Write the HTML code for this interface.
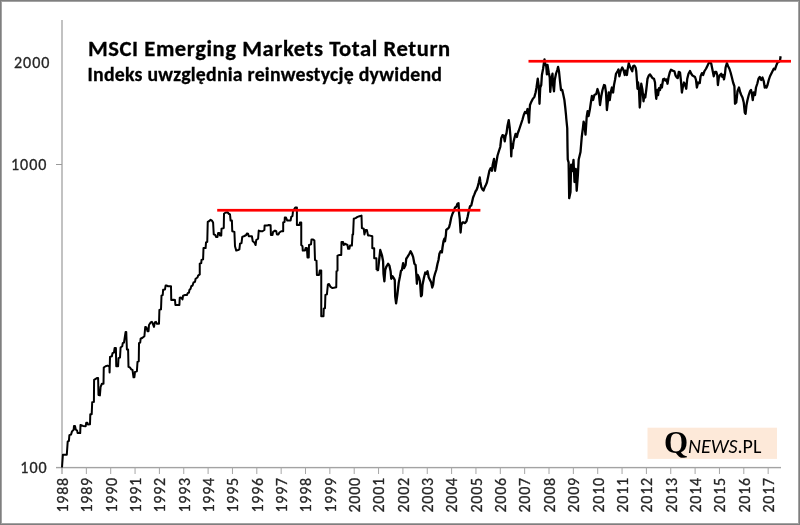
<!DOCTYPE html>
<html><head><meta charset="utf-8">
<style>
html,body{margin:0;padding:0;background:#fff;}
body{width:800px;height:525px;overflow:hidden;}
svg{display:block;}
text{font-family:Carlito, 'Liberation Sans', sans-serif;}
</style></head>
<body>
<svg width="800" height="525" viewBox="0 0 800 525">
<rect x="0" y="0" width="800" height="525" fill="#ffffff"/>
<rect x="0.5" y="0.5" width="799" height="524" fill="none" stroke="#7f7f7f" stroke-width="1"/>
<rect x="1.5" y="1.5" width="797" height="522" fill="none" stroke="#a3a3a3" stroke-width="1"/>
<rect x="61" y="20" width="2" height="454" fill="#c2c2c2"/>
<rect x="56" y="466.9" width="725" height="1.4" fill="#a3a3a3"/>
<rect x="56" y="164" width="6" height="1" fill="#9a9a9a"/>
<rect x="85.85" y="467" width="1" height="7" fill="#a6a6a6"/><rect x="110.20" y="467" width="1" height="7" fill="#a6a6a6"/><rect x="134.55" y="467" width="1" height="7" fill="#a6a6a6"/><rect x="158.90" y="467" width="1" height="7" fill="#a6a6a6"/><rect x="183.25" y="467" width="1" height="7" fill="#a6a6a6"/><rect x="207.60" y="467" width="1" height="7" fill="#a6a6a6"/><rect x="231.95" y="467" width="1" height="7" fill="#a6a6a6"/><rect x="256.30" y="467" width="1" height="7" fill="#a6a6a6"/><rect x="280.65" y="467" width="1" height="7" fill="#a6a6a6"/><rect x="305.00" y="467" width="1" height="7" fill="#a6a6a6"/><rect x="329.35" y="467" width="1" height="7" fill="#a6a6a6"/><rect x="353.70" y="467" width="1" height="7" fill="#a6a6a6"/><rect x="378.05" y="467" width="1" height="7" fill="#a6a6a6"/><rect x="402.40" y="467" width="1" height="7" fill="#a6a6a6"/><rect x="426.75" y="467" width="1" height="7" fill="#a6a6a6"/><rect x="451.10" y="467" width="1" height="7" fill="#a6a6a6"/><rect x="475.45" y="467" width="1" height="7" fill="#a6a6a6"/><rect x="499.80" y="467" width="1" height="7" fill="#a6a6a6"/><rect x="524.15" y="467" width="1" height="7" fill="#a6a6a6"/><rect x="548.50" y="467" width="1" height="7" fill="#a6a6a6"/><rect x="572.85" y="467" width="1" height="7" fill="#a6a6a6"/><rect x="597.20" y="467" width="1" height="7" fill="#a6a6a6"/><rect x="621.55" y="467" width="1" height="7" fill="#a6a6a6"/><rect x="645.90" y="467" width="1" height="7" fill="#a6a6a6"/><rect x="670.25" y="467" width="1" height="7" fill="#a6a6a6"/><rect x="694.60" y="467" width="1" height="7" fill="#a6a6a6"/><rect x="718.95" y="467" width="1" height="7" fill="#a6a6a6"/><rect x="743.30" y="467" width="1" height="7" fill="#a6a6a6"/><rect x="767.65" y="467" width="1" height="7" fill="#a6a6a6"/>
<g fill="#262626" font-size="16" letter-spacing="1" stroke="#262626" stroke-width="0.3">
<text x="14" y="67.8" textLength="36.44" lengthAdjust="spacingAndGlyphs">2000</text>
<text x="11" y="169.6" textLength="36.44" lengthAdjust="spacingAndGlyphs">1000</text>
<text x="20.3" y="473.1" textLength="27.33" lengthAdjust="spacingAndGlyphs">100</text>
</g>
<g fill="#262626" font-size="16" letter-spacing="0.75" stroke="#262626" stroke-width="0.3">
<text transform="translate(67.80,512.5) rotate(-90)" textLength="35.44" lengthAdjust="spacingAndGlyphs">1988</text><text transform="translate(92.15,512.5) rotate(-90)" textLength="35.44" lengthAdjust="spacingAndGlyphs">1989</text><text transform="translate(116.50,512.5) rotate(-90)" textLength="35.44" lengthAdjust="spacingAndGlyphs">1990</text><text transform="translate(140.85,512.5) rotate(-90)" textLength="35.44" lengthAdjust="spacingAndGlyphs">1991</text><text transform="translate(165.20,512.5) rotate(-90)" textLength="35.44" lengthAdjust="spacingAndGlyphs">1992</text><text transform="translate(189.55,512.5) rotate(-90)" textLength="35.44" lengthAdjust="spacingAndGlyphs">1993</text><text transform="translate(213.90,512.5) rotate(-90)" textLength="35.44" lengthAdjust="spacingAndGlyphs">1994</text><text transform="translate(238.25,512.5) rotate(-90)" textLength="35.44" lengthAdjust="spacingAndGlyphs">1995</text><text transform="translate(262.60,512.5) rotate(-90)" textLength="35.44" lengthAdjust="spacingAndGlyphs">1996</text><text transform="translate(286.95,512.5) rotate(-90)" textLength="35.44" lengthAdjust="spacingAndGlyphs">1997</text><text transform="translate(311.30,512.5) rotate(-90)" textLength="35.44" lengthAdjust="spacingAndGlyphs">1998</text><text transform="translate(335.65,512.5) rotate(-90)" textLength="35.44" lengthAdjust="spacingAndGlyphs">1999</text><text transform="translate(360.00,512.5) rotate(-90)" textLength="35.44" lengthAdjust="spacingAndGlyphs">2000</text><text transform="translate(384.35,512.5) rotate(-90)" textLength="35.44" lengthAdjust="spacingAndGlyphs">2001</text><text transform="translate(408.70,512.5) rotate(-90)" textLength="35.44" lengthAdjust="spacingAndGlyphs">2002</text><text transform="translate(433.05,512.5) rotate(-90)" textLength="35.44" lengthAdjust="spacingAndGlyphs">2003</text><text transform="translate(457.40,512.5) rotate(-90)" textLength="35.44" lengthAdjust="spacingAndGlyphs">2004</text><text transform="translate(481.75,512.5) rotate(-90)" textLength="35.44" lengthAdjust="spacingAndGlyphs">2005</text><text transform="translate(506.10,512.5) rotate(-90)" textLength="35.44" lengthAdjust="spacingAndGlyphs">2006</text><text transform="translate(530.45,512.5) rotate(-90)" textLength="35.44" lengthAdjust="spacingAndGlyphs">2007</text><text transform="translate(554.80,512.5) rotate(-90)" textLength="35.44" lengthAdjust="spacingAndGlyphs">2008</text><text transform="translate(579.15,512.5) rotate(-90)" textLength="35.44" lengthAdjust="spacingAndGlyphs">2009</text><text transform="translate(603.50,512.5) rotate(-90)" textLength="35.44" lengthAdjust="spacingAndGlyphs">2010</text><text transform="translate(627.85,512.5) rotate(-90)" textLength="35.44" lengthAdjust="spacingAndGlyphs">2011</text><text transform="translate(652.20,512.5) rotate(-90)" textLength="35.44" lengthAdjust="spacingAndGlyphs">2012</text><text transform="translate(676.55,512.5) rotate(-90)" textLength="35.44" lengthAdjust="spacingAndGlyphs">2013</text><text transform="translate(700.90,512.5) rotate(-90)" textLength="35.44" lengthAdjust="spacingAndGlyphs">2014</text><text transform="translate(725.25,512.5) rotate(-90)" textLength="35.44" lengthAdjust="spacingAndGlyphs">2015</text><text transform="translate(749.60,512.5) rotate(-90)" textLength="35.44" lengthAdjust="spacingAndGlyphs">2016</text><text transform="translate(773.95,512.5) rotate(-90)" textLength="35.44" lengthAdjust="spacingAndGlyphs">2017</text>
</g>
<path d="M62.00,467.50 62.90,454.80 66.80,454.80 67.70,441.60 68.90,440.80 69.40,435.10 71.10,434.50 72.00,431.40 73.70,429.70 74.00,425.90 75.00,425.90 75.80,429.70 77.10,430.50 77.60,433.10 80.20,433.10 80.50,424.90 83.10,425.90 85.70,426.20 86.20,422.80 87.40,422.80 87.90,424.50 90.00,424.20 90.30,414.20 91.70,414.20 92.20,402.30 93.90,401.90 94.10,379.80 96.90,378.10 98.10,378.10 98.50,395.00 99.90,395.40 100.60,386.80 101.90,383.75 103.50,383.75 103.75,367.50 105.60,366.25 107.50,365.60 109.40,366.25 109.60,372.50 110.00,356.90 111.90,356.25 112.50,353.10 114.00,352.50 114.60,348.10 115.90,348.10 116.25,366.25 118.10,366.25 118.50,358.10 120.00,357.50 120.60,347.50 122.25,346.25 122.75,343.10 124.00,342.50 125.60,331.90 126.25,331.90 126.90,349.40 128.10,349.40 128.50,366.90 130.00,367.50 131.25,369.40 132.50,370.00 133.50,377.25 134.40,377.25 135.00,371.90 136.90,371.25 137.50,361.90 138.75,361.25 139.00,343.10 140.25,342.50 140.60,338.75 142.50,337.75 144.40,336.25 145.25,326.90 146.50,327.50 147.50,331.25 148.50,331.25 149.00,325.00 150.60,322.50 151.90,321.90 152.50,323.10 154.00,326.90 154.75,322.50 156.00,321.90 156.90,323.75 159.00,323.75 159.40,310.00 161.00,309.40 161.50,295.60 162.75,295.00 163.10,289.75 165.00,289.40 165.60,285.60 166.90,285.60 168.10,286.25 171.00,286.25 171.25,300.00 173.75,299.75 175.00,300.00 175.40,305.00 179.40,305.00 179.75,297.75 181.00,297.50 182.50,299.40 183.10,295.60 185.00,295.00 186.90,295.00 187.75,293.10 189.00,292.50 189.40,290.00 190.60,288.75 191.25,286.25 192.50,285.60 193.50,282.50 195.00,281.90 195.60,278.75 197.50,277.50 198.10,275.60 199.75,274.40 199.75,263.75 201.25,263.10 201.50,260.00 203.10,259.40 203.50,248.10 205.60,248.10 206.00,242.50 207.25,241.90 207.75,221.90 209.00,221.25 210.60,219.75 211.90,220.60 213.10,222.50 213.75,234.40 215.25,235.00 216.00,236.90 217.50,236.90 218.10,233.10 219.40,233.10 220.00,235.60 221.25,235.60 221.50,228.75 223.75,228.10 224.00,213.75 225.60,212.50 227.50,212.25 228.75,213.75 230.00,214.40 230.60,220.60 231.90,220.60 232.25,231.25 234.40,231.90 235.00,246.25 236.25,250.60 238.10,250.00 239.40,249.40 240.00,243.75 241.50,243.10 242.25,236.90 244.40,236.00 246.25,235.00 246.90,233.50 248.10,233.75 248.75,236.25 251.90,236.25 252.75,241.25 254.40,242.50 255.60,245.00 256.25,240.00 258.10,238.75 258.75,230.60 260.60,231.25 262.50,231.25 264.40,230.00 264.60,225.60 266.90,225.60 268.75,225.00 270.60,225.25 270.90,235.00 272.50,235.00 273.10,231.90 275.00,230.60 276.25,231.25 276.90,234.40 278.50,234.40 279.40,232.50 281.25,231.25 283.20,231.25 283.20,222.40 284.60,222.00 284.80,217.60 286.00,217.50 287.25,220.60 290.60,220.60 291.25,216.90 292.50,216.00 293.10,210.00 293.75,210.00 295.25,207.50 296.90,207.50 296.90,225.00 299.40,225.00 300.00,222.50 301.25,222.50 301.25,245.00 302.50,246.25 302.75,250.60 305.00,250.60 305.60,248.10 306.90,248.10 307.50,257.50 308.75,257.50 309.00,245.00 311.00,244.40 311.50,239.40 313.10,239.40 314.40,240.60 315.00,260.00 316.50,260.60 316.90,275.00 319.00,275.00 319.75,270.60 321.25,270.60 321.25,316.25 323.50,316.25 323.75,308.75 325.00,308.10 325.40,295.00 326.90,294.40 327.90,284.40 329.00,284.00 330.60,286.90 332.50,288.10 335.00,287.50 336.25,287.25 336.50,271.25 337.50,270.60 337.50,255.60 339.40,255.00 341.25,255.00 341.50,241.90 343.10,241.90 343.75,245.00 345.00,243.75 347.50,245.00 348.10,248.75 349.40,248.75 350.00,245.60 351.90,245.60 352.50,234.40 353.10,234.40 353.75,218.75 355.60,218.10 357.50,216.90 359.40,216.25 361.50,215.60 361.90,228.10 363.75,228.75 364.40,234.40 365.60,230.00 366.90,230.00 368.10,235.60 370.00,235.60 372.30,236.30 372.30,248.30 374.20,248.30 374.20,258.30 376.40,258.30 376.60,270.00" fill="none" stroke="#000" stroke-width="2" stroke-linejoin="round"/>
<path d="M376.60,270.00 378.00,270.20 379.40,258.00 380.25,250.00 381.90,255.00 383.10,261.25 383.50,273.75 384.40,281.25 385.25,270.00 386.25,266.90 388.10,263.75 389.40,265.60 390.60,271.25 391.25,278.75 392.50,276.25 393.75,278.10 394.75,280.00 395.20,296.50 396.10,303.30 397.30,295.00 398.75,282.50 400.00,276.25 401.00,270.60 401.90,270.00 403.10,263.10 404.00,268.10 405.60,265.00 406.25,258.75 407.50,256.90 409.40,253.75 410.60,251.25 411.90,253.75 413.10,256.90 414.40,263.75 415.60,265.00 416.25,273.75 416.90,283.75 417.75,275.00 419.00,277.50 420.00,281.25 421.00,296.25 421.90,295.00 422.50,285.00 424.00,277.50 425.25,272.50 426.25,273.75 427.50,271.25 428.75,277.50 430.00,280.00 431.25,282.50 432.25,287.50 433.10,285.00 434.00,277.50 435.00,273.75 436.25,270.00 437.50,263.75 438.50,260.00 439.40,253.75 440.60,251.25 441.90,252.50 442.50,247.50 443.50,241.25 444.40,238.75 445.00,241.25 445.90,235.00 446.25,230.00 447.75,228.75 449.00,227.50 450.00,223.75 451.25,217.50 452.50,213.75 453.75,211.25 455.00,207.50 456.25,206.90 457.50,203.75 458.50,203.10 459.00,212.50 459.75,218.75 460.60,232.50 461.25,225.00 462.50,222.50 463.75,222.50 465.00,223.10 466.50,221.25 467.75,216.25 468.75,211.25 470.00,206.25 471.25,205.60 472.25,201.25 473.10,197.50 474.40,194.40 475.60,191.25 476.50,190.00 477.50,187.50 478.75,182.50 479.75,177.50 480.25,181.25 481.25,186.90 482.50,189.40 483.50,190.60 484.40,188.10 485.60,185.60 486.90,182.50 488.10,177.00 489.40,170.75 490.60,168.25 491.90,170.75 492.75,164.50 494.00,158.90 495.00,170.75 496.00,164.50 497.50,155.75 499.00,150.75 500.25,147.00 501.25,138.25 502.50,135.10 503.75,135.75 504.75,141.40 505.60,135.75 506.50,133.25 507.50,125.75 508.75,120.10 509.75,128.25 510.60,138.25 511.25,156.40 511.90,144.50 512.75,148.25 513.50,142.00 514.40,138.25 515.60,133.90 516.90,137.00 517.75,133.25 518.75,130.75 520.00,127.00 521.25,123.25 522.50,119.50 523.75,115.00 525.00,112.00 526.25,113.00 527.50,109.00 528.10,114.00 529.00,122.60 529.50,112.00 530.00,105.00 531.25,101.90 532.50,99.40 534.40,96.90 535.60,92.50 536.50,87.50 537.75,78.75 538.75,86.25 539.50,103.75 540.25,87.50 541.25,85.00 541.90,75.00 543.10,68.75 544.00,62.50 544.50,59.40 545.25,63.75 546.25,66.25 546.90,74.40 547.50,65.00 548.75,72.50 549.75,77.50 550.25,91.90 551.25,80.00 552.50,73.75 553.10,85.00 554.00,91.25 554.75,80.00 556.00,73.75 557.25,70.00 558.10,66.90 559.00,71.25 560.00,81.25 561.00,90.00 562.25,90.00 563.10,93.75 564.40,100.00 565.25,107.50 566.00,115.00 566.25,118.25 567.25,128.25 567.50,147.00 567.75,159.50 568.60,162.30 569.20,198.20 570.50,192.00 571.10,164.75 572.30,171.00 573.50,159.80 574.50,182.00 575.80,169.00 576.70,190.75 577.90,174.65 578.70,159.40 580.50,152.00 581.75,137.00 583.00,127.20 583.60,121.60 584.60,126.00 585.50,134.60 586.10,126.00 586.70,116.70 587.60,111.10 588.60,116.00 589.80,109.85 590.80,103.00 591.90,96.00 593.10,100.00 594.40,95.00 596.25,94.00 597.50,89.00 598.75,93.00 600.00,105.00 601.25,96.25 602.50,90.00 604.00,85.00 605.00,85.60 606.00,92.50 606.90,110.00 607.75,102.50 608.75,92.50 609.75,100.00 611.00,91.25 611.90,87.50 613.10,92.50 614.00,85.00 615.00,80.00 616.00,73.75 617.50,71.25 618.50,69.40 619.40,76.25 620.60,71.25 622.25,67.50 623.50,70.00 624.75,75.00 625.60,70.60 626.90,75.00 627.75,68.75 628.75,63.10 629.75,66.25 631.00,68.75 632.25,71.25 633.10,66.25 634.40,65.60 635.60,67.50 636.25,71.25 636.90,80.00 637.50,88.75 638.10,82.50 639.00,90.00 639.75,107.50 640.25,102.50 641.25,83.75 642.50,90.00 643.50,101.25 644.40,95.00 645.25,97.50 646.25,90.00 647.50,78.75 648.75,75.60 650.00,74.40 651.25,76.25 652.50,78.10 654.00,78.75 655.00,82.50 655.60,92.50 656.25,98.75 657.25,90.00 658.10,95.00 659.00,88.10 660.00,90.00 661.00,85.00 661.90,87.50 663.10,79.40 664.40,78.75 665.25,80.60 666.50,79.40 667.50,83.75 668.50,77.50 669.75,72.50 671.00,69.75 672.50,70.60 674.40,71.25 675.60,75.60 676.90,77.50 677.75,78.10 678.75,71.90 680.00,72.50 681.00,81.25 681.90,92.50 682.75,87.50 684.00,82.50 685.00,84.40 686.25,88.75 687.25,78.75 688.50,73.75 690.00,71.00 691.25,73.75 692.50,75.60 693.75,76.25 695.00,77.00 696.00,80.00 696.90,87.50 698.10,82.50 699.75,83.10 700.60,76.25 701.90,73.10 703.10,75.00 704.40,71.25 706.00,68.75 707.25,66.25 708.75,63.10 710.00,61.90 711.25,63.75 712.50,70.00 713.75,76.25 715.00,71.90 716.25,71.90 717.25,75.00 717.90,85.00 718.75,78.10 720.00,75.00 721.25,73.75 722.25,76.90 723.10,75.00 724.00,79.40 725.00,73.75 725.60,67.50 726.90,63.10 728.10,66.25 729.40,68.75 730.60,72.50 731.90,77.50 733.10,82.50 734.40,86.25 735.00,103.75 736.25,102.50 737.50,91.25 739.00,87.50 740.25,92.50 741.25,95.00 742.50,97.50 743.75,102.50 744.75,112.50 745.60,113.75 746.50,105.00 747.50,100.00 748.75,95.00 750.00,91.25 751.00,90.00 751.90,93.75 752.75,100.00 753.75,92.50 755.00,95.00 756.00,87.50 757.25,83.75 758.50,78.75 759.75,76.90 761.25,80.00 762.50,77.50 763.75,81.25 764.75,87.50 765.60,86.25 766.50,87.50 767.50,85.00 768.75,80.00 770.00,76.25 771.25,73.75 772.50,71.25 773.75,68.75 775.00,69.40 776.25,65.60 777.50,62.50 778.75,61.90 780.00,60.60 780.60,56.25" fill="none" stroke="#000" stroke-width="2.3" stroke-linejoin="round"/>
<rect x="217.2" y="208.9" width="263.2" height="2.7" fill="#ff0000"/>
<rect x="528.5" y="59.9" width="262.5" height="2.7" fill="#ff0000"/>
<g fill="#000" font-weight="bold" stroke="#000" stroke-width="0.3">
<text x="87.9" y="55.8" font-size="22.6" letter-spacing="0.58" textLength="362.84" lengthAdjust="spacingAndGlyphs">MSCI Emerging Markets Total Return</text>
<text x="87.6" y="80.5" font-size="19.8" letter-spacing="0.24" textLength="354.58" lengthAdjust="spacingAndGlyphs">Indeks uwzględnia reinwestycję dywidend</text>
</g>
<rect x="647.5" y="427.7" width="129.5" height="31.2" fill="#fde9d9"/>
<text x="664" y="453" fill="#000" textLength="97.34" lengthAdjust="spacingAndGlyphs"><tspan font-family="'Liberation Serif', serif" font-weight="bold" font-size="31">Q</tspan><tspan font-style="italic" font-size="20">NEWS</tspan><tspan font-size="20">.PL</tspan></text>
</svg>
</body></html>
